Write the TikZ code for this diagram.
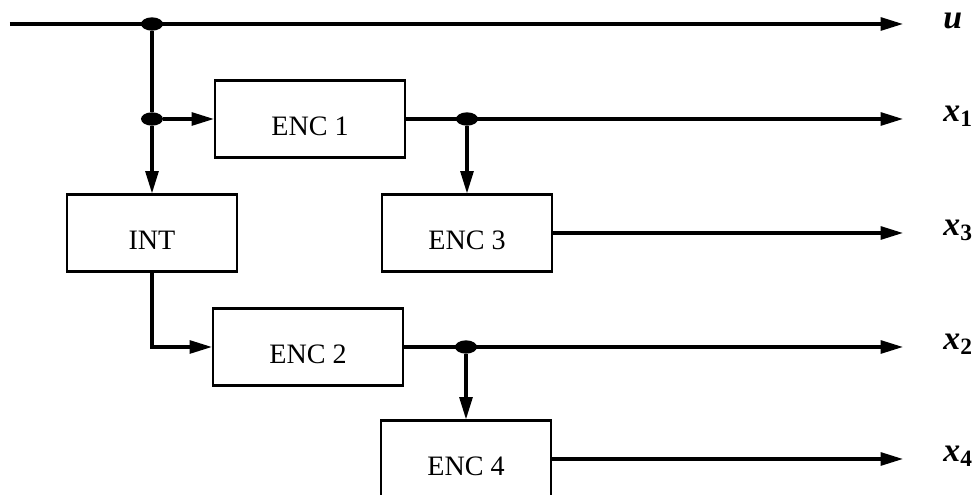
\documentclass[tikz,border=0pt]{standalone}
\usepackage{fontspec}
\setmainfont{Liberation Serif}
\usetikzlibrary{arrows.meta,shapes.geometric}

\begin{document}
\begin{tikzpicture}[x=0.015cm, y=-0.015cm, >={Triangle[length=9.5pt,width=5.5pt]},
  box/.style={draw, line width=0.9pt, minimum height=1.155cm, text height=14pt, text depth=0pt, font=\large},
  wide/.style={minimum width=2.85cm},
  narrow/.style={minimum width=2.55cm},
  dot/.style={ellipse, fill, inner sep=0pt, minimum width=0.33cm, minimum height=0.2cm},
  wire/.style={line width=1.3pt},
  sig/.style={anchor=west, inner sep=0pt, font=\Large\bfseries\itshape}]

\useasboundingbox (0,0) rectangle (980,495);

% Input and output ends
\coordinate (in) at (10,24);
\coordinate (tu) at (903,24);
\coordinate (t1) at (903,119);
\coordinate (t3) at (903,233);
\coordinate (t2) at (903,347);
\coordinate (t4) at (903,459);

% Branch points
\node[dot] (j0) at (152,24) {};
\node[dot] (j1) at (152,119) {};
\node[dot] (j2) at (467,119) {};
\node[dot] (j3) at (466,347) {};

% Blocks
\node[box, wide] (enc1) at (310,119) {ENC 1};
\node[box, narrow] (int) at (152,233) {INT};
\node[box, narrow] (enc3) at (467,233) {ENC 3};
\node[box, wide] (enc2) at (308,347) {ENC 2};
\node[box, narrow] (enc4) at (466,459) {ENC 4};

% Outputs
\node[sig] (u) at (943,21) {u};
\node[sig] (x1) at (943,116) {x\textsubscript{\upshape 1}};
\node[sig] (x3) at (943,230) {x\textsubscript{\upshape 3}};
\node[sig] (x2) at (943,344) {x\textsubscript{\upshape 2}};
\node[sig] (x4) at (943,456) {x\textsubscript{\upshape 4}};

% Connections
\draw[wire, ->] (in) -- (tu);
\draw[wire] (j0) -- (j1);
\draw[wire, ->] (j1) -- (enc1);
\draw[wire, ->] (j1) -- (int);
\draw[wire, ->] (enc1) -- (t1);
\draw[wire, ->] (j2) -- (enc3);
\draw[wire, ->] (enc3) -- (t3);
\draw[wire, ->] (int) |- (enc2);
\draw[wire, ->] (enc2) -- (t2);
\draw[wire, ->] (j3) -- (enc4);
\draw[wire, ->] (enc4) -- (t4);

\end{tikzpicture}
\end{document}
